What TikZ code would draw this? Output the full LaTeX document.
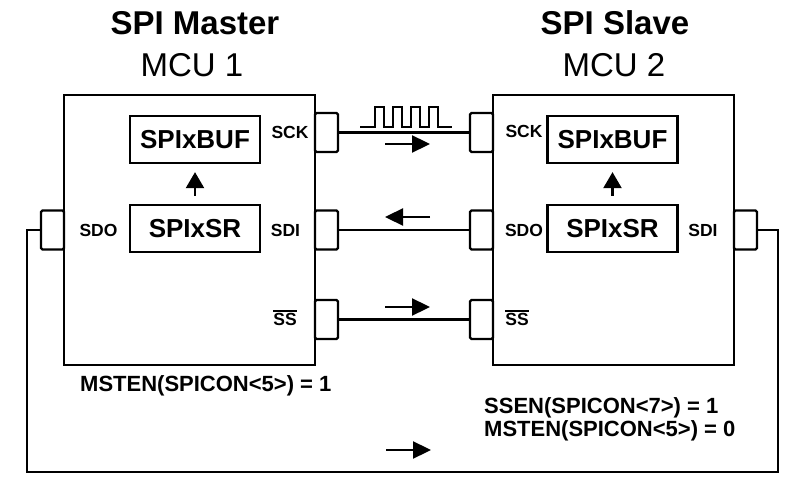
\documentclass[tikz,border=0pt]{standalone}
\usepackage{fontspec}
\setmainfont{Liberation Sans}
\usetikzlibrary{arrows.meta}
\newcommand\olbar[1]{\vbox{\hrule height 1.5pt \kern 1.6pt \hbox{#1}}}
\begin{document}
\begin{tikzpicture}[x=1pt,y=-1pt,
  chip/.style={draw, line width=2.3pt, inner sep=0pt},
  regbox/.style={draw, line width=2.3pt, inner sep=0pt, minimum width=130pt, minimum height=47pt,
     font=\fontsize{26}{30}\selectfont\bfseries},
  portbox/.style={draw, line width=2.3pt, rounded corners=1.5pt, inner sep=0pt, minimum width=23pt, minimum height=39pt},
  lbl/.style={inner sep=0pt, font=\fontsize{17.5}{20}\selectfont\bfseries},
  title/.style={inner sep=0pt, anchor=base, font=\fontsize{33}{40}\selectfont\bfseries},
  sub/.style={inner sep=0pt, anchor=base, font=\fontsize{33}{40}\selectfont},
  note/.style={inner sep=0pt, anchor=base west, font=\fontsize{22}{23}\selectfont\bfseries},
  wire/.style={line width=2.3pt},
  flow/.style={line width=2.3pt, -{Triangle[length=18pt,width=17pt]}},
]
\useasboundingbox (0,0) rectangle (800,486);

% titles
\node[title] (t1) at (195,35) {SPI Master};
\node[sub] (s1) at (192,77) {MCU 1};
\node[title] (t2) at (615,35) {SPI Slave};
\node[sub] (s2) at (614,77) {MCU 2};

% ports (drawn first so chip border overlays)
\node[portbox] (msck) at (326.5,132.5) {};
\node[portbox] (msdi) at (326.5,230) {};
\node[portbox] (mss)  at (326.5,319.5) {};
\node[portbox] (msdo) at (52.5,230) {};
\node[portbox] (ssck) at (481.5,132.5) {};
\node[portbox] (ssdo) at (481.5,230) {};
\node[portbox] (sss)  at (481.5,319.5) {};
\node[portbox] (ssdi) at (745.5,230) {};

% chips
\node[chip, minimum width=251pt, minimum height=270pt] (m) at (189.5,230) {};
\node[chip, minimum width=241pt, minimum height=270pt] (s) at (613.5,230) {};

% registers
\node[regbox] (mbuf) at (195,139.5) {SPIxBUF};
\node[regbox] (msr)  at (195,228.5) {SPIxSR};
\node[regbox] (sbuf) at (612.5,139.5) {SPIxBUF};
\node[regbox] (ssr)  at (612.5,228.5) {SPIxSR};
\draw[line width=2.3pt, -{Triangle[length=16pt,width=18pt]}] ([yshift=8pt]msr.north) -- ([yshift=-8pt]mbuf.south);
\draw[line width=2.3pt, -{Triangle[length=16pt,width=18pt]}] ([yshift=8pt]ssr.north) -- ([yshift=-8pt]sbuf.south);

% pin labels
\node[lbl] (lmsck) at (290,132) {SCK};
\node[lbl] (lmsdi) at (285.5,230) {SDI};
\node[lbl] (lmss)  at (285,318) {\olbar{SS}};
\node[lbl] (lmsdo) at (98.5,230) {SDO};
\node[lbl] (lssck) at (524,131.5) {SCK};
\node[lbl] (lssdo) at (524,230) {SDO};
\node[lbl] (lsss)  at (517,318) {\olbar{SS}};
\node[lbl] (lssdi) at (703,230) {SDI};

% wires
\draw[wire] (msck.east) -- (ssck.west);
\draw[wire] (ssdo.west) -- (msdi.east);
\draw[wire] (mss.east) -- (sss.west);
\coordinate (bl) at (27,472);
\coordinate (br) at (778,472);
\draw[wire] (msdo.west) -| (bl) -- (br) |- (ssdi.east);

% clock waveform
\draw[wire, line join=miter] (360,127) -- (375,127) -- (375,107) -- (384,107) -- (384,127)
  -- (393,127) -- (393,107) -- (402,107) -- (402,127)
  -- (411,127) -- (411,107) -- (420,107) -- (420,127)
  -- (429,127) -- (429,107) -- (438,107) -- (438,127) -- (452,127);

% direction arrows
\coordinate (a1s) at (385,144); \coordinate (a1e) at (430,144);
\coordinate (a2s) at (430,217); \coordinate (a2e) at (385,217);
\coordinate (a3s) at (385,307); \coordinate (a3e) at (430,307);
\coordinate (a4s) at (386,450); \coordinate (a4e) at (431,450);
\draw[flow] (a1s) -- (a1e);
\draw[flow] (a2s) -- (a2e);
\draw[flow] (a3s) -- (a3e);
\draw[flow] (a4s) -- (a4e);

% notes
\node[note] (n1) at (80,391) {MSTEN(SPICON<5>) = 1};
\node[note] (n2) at (484,413) {SSEN(SPICON<7>) = 1};
\node[note] (n3) at (484,436) {MSTEN(SPICON<5>) = 0};
\end{tikzpicture}
\end{document}
